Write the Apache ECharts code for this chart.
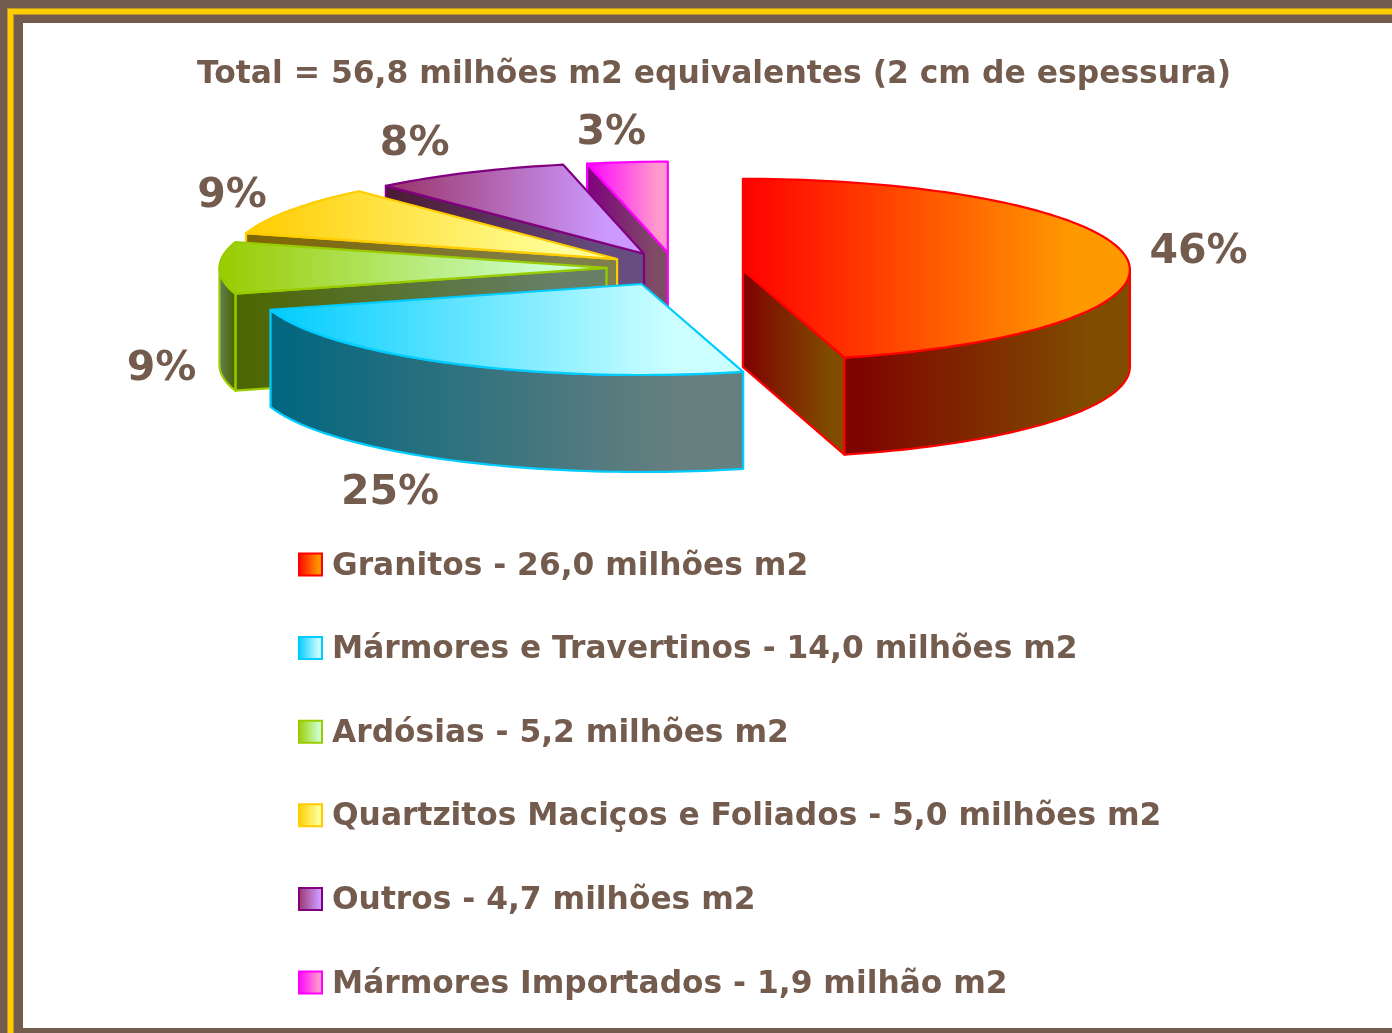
<!DOCTYPE html>
<html><head><meta charset="utf-8">
<style>html,body{margin:0;padding:0;background:#fff}#c{width:1392px;height:1033px}</style>
<script src="https://cdn.jsdelivr.net/npm/echarts@6/dist/echarts.min.js"></script>
</head><body><div id="c"></div>
<script>
const titleText = 'Total = 56,8 milhões m2 equivalentes (2 cm de espessura)';
const categories = ['Granitos - 26,0 milhões m2','Mármores e Travertinos - 14,0 milhões m2','Ardósias - 5,2 milhões m2','Quartzitos Maciços e Foliados - 5,0 milhões m2','Outros - 4,7 milhões m2','Mármores Importados - 1,9 milhão m2'];
const values = [26.0, 14.0, 5.2, 5.0, 4.7, 1.9];
const startColors = ['#ff0000','#00ccff','#99cc00','#ffcc00','#993366','#ff00ff'];
const endColors = ['#ff9900','#ccffff','#ccffcc','#ffff99','#cc99ff','#ff99cc'];
const wallStart = ['#7f0000','#00667f','#4c6600','#7f6600','#4c1933','#7f007f'];
const wallEnd = ['#7f4c00','#667f7f','#667f66','#7f7f4c','#664c7f','#7f4c66'];
const borderColors = ['#ff0000','#00ccff','#99cc00','#ffcc00','#800080','#ff00ff'];
const paintRank = [5,6,4,3,2,1];
const labelOffsetX = [72,-63,-58,-58,-54,-16];
const labelOffsetY = [-5,130,101,-14,-28,-29];

const total = values.reduce((a,b)=>a+b,0);
const DEG = Math.PI/180;
const cx=675, cy=270, rx=387, ry=91, depth=97, ex=68.5, ey=17.2, skew=2.1;
const lg=(a,b)=>new echarts.graphic.LinearGradient(0,0,1,0,[{offset:0,color:a},{offset:0.85,color:b},{offset:1,color:b}]);

function renderSlice(i, api){
  const v = api.value(0);
  let before = 0; for(let k=0;k<i;k++) before += values[k];
  const a0 = before/total*360, a1 = a0 + v/total*360, mid=(a0+a1)/2;
  const s=Math.sin(mid*DEG), c=Math.cos(mid*DEG);
  const vx = cx + ex*s, vy = cy + skew*s - ey*c;
  const pt=(deg,dz)=>[vx+rx*Math.sin(deg*DEG), vy-ry*Math.cos(deg*DEG)+(dz||0)];
  const arc=(p,q,dz)=>{const n=Math.max(2,Math.ceil(Math.abs(q-p)/1.5));const o=[];for(let j=0;j<=n;j++)o.push(pt(p+(q-p)*j/n,dz));return o;};
  const border=borderColors[i];
  const kids=[];
  const wall=(points,rev)=>kids.push({type:'polygon',shape:{points},style:{fill:rev?lg(wallEnd[i],wallStart[i]):lg(wallStart[i],wallEnd[i]),stroke:border,lineWidth:2.2,lineJoin:'round'}});
  [[a0,a0-90],[a1,a1+90]].forEach(([ang,n])=>{
    if(Math.cos(n*DEG)<-0.001){
      const e=pt(ang);
      wall([[vx,vy],e,[e[0],e[1]+depth],[vx,vy+depth]]);
    }
  });
  const fa=Math.max(a0,90), fb=Math.min(a1,270);
  if(fb>fa){
    const top=arc(fa,fb,0), bot=arc(fb,fa,depth);
    const w=Math.abs(pt(fa)[0]-pt(fb)[0]);
    wall(top.concat(bot), w<40);
  }
  kids.push({type:'polygon',shape:{points:[[vx,vy]].concat(arc(a0,a1,0))},style:{fill:lg(startColors[i],endColors[i]),stroke:border,lineWidth:2.2,lineJoin:'round'}});
  const m=pt(mid);
  kids.push({type:'text',style:{text:Math.round(v/total*100)+'%',x:m[0]+labelOffsetX[i],y:m[1]+labelOffsetY[i],fill:'#735b4e',font:'bold 41px "DejaVu Sans"',align:'center',verticalAlign:'middle'}});
  return {type:'group',children:kids};
}

const series = categories.map((name,i)=>({
  type:'custom', name, coordinateSystem:'none', z:paintRank[i]+2, silent:true, animation:false,
  itemStyle:{color:lg(startColors[i],endColors[i]),borderColor:borderColors[i],borderWidth:2},
  data:[[values[i]]],
  renderItem:(p,api)=>renderSlice(i,api)
}));

const rect=(x,y,width,height,fill)=>({type:'rect',silent:true,z:50,shape:{x,y,width,height},style:{fill}});
const brown='#735b4e', gold='#ffcc00', edge='#b9972a';
const chart=echarts.init(document.getElementById('c'),null,{renderer:'canvas'});
chart.setOption({
  animation:false, backgroundColor:'#ffffff',
  title:{text:titleText,left:197,top:59,padding:0,textStyle:{color:brown,fontFamily:'DejaVu Sans',fontWeight:'bold',fontSize:31.4}},
  legend:{
    orient:'vertical',left:298,top:551,padding:0,itemWidth:23,itemHeight:22,itemGap:52.6,icon:'rect',
    data:categories,selectedMode:false,
    itemStyle:{borderWidth:2},
    formatter:'{t|{name}}',
    textStyle:{rich:{t:{color:brown,fontFamily:'DejaVu Sans',fontWeight:'bold',fontSize:31.3,padding:[4,0,0,5]}}}
  },
  graphic:[
    rect(0,0,1392,23,brown),rect(0,0,23,1033,brown),rect(0,1028,1392,5,brown),
    rect(7,8,1385,7,edge),rect(7,8,7,1025,edge),
    rect(8,9,1384,5,gold),rect(8,9,5,1024,gold)
  ],
  series
});
</script></body></html>
